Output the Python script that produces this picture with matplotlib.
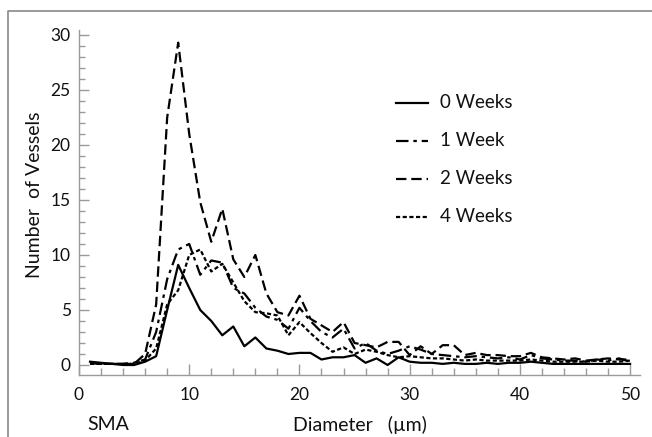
import matplotlib
matplotlib.use("Agg")
import matplotlib.pyplot as plt
from matplotlib.lines import Line2D
from matplotlib.ticker import MultipleLocator

plt.rcParams['font.family'] = ['Lato', 'DejaVu Sans']
plt.rcParams['lines.scale_dashes'] = False

diam = list(range(1, 51))
w0 = [0.3, 0.2, 0.1, 0.0, 0.0, 0.3, 0.8, 5.0, 9.1, 7.0,
      5.0, 4.0, 2.7, 3.5, 1.7, 2.5, 1.5, 1.3, 1.0, 1.1,
      1.1, 0.5, 0.7, 0.7, 0.9, 0.2, 0.6, 0.0, 0.7, 0.3,
      0.2, 0.2, 0.1, 0.2, 0.1, 0.1, 0.2, 0.1, 0.2, 0.2,
      0.3, 0.2, 0.1, 0.1, 0.1, 0.1, 0.1, 0.1, 0.1, 0.1]
w1 = [0.2, 0.1, 0.1, 0.1, 0.2, 0.5, 3.0, 7.8, 10.5, 11.0,
      8.2, 9.5, 9.3, 7.0, 6.5, 5.2, 4.4, 4.1, 3.3, 5.2,
      4.0, 3.0, 2.5, 3.3, 1.5, 2.0, 1.3, 1.0, 1.3, 1.7,
      1.4, 1.0, 0.9, 0.8, 0.7, 0.8, 0.7, 0.6, 0.7, 0.5,
      0.9, 0.6, 0.5, 0.4, 0.4, 0.3, 0.5, 0.4, 0.6, 0.3]
w2 = [0.2, 0.1, 0.1, 0.1, 0.1, 1.0, 5.5, 22.5, 29.3, 21.0,
      14.8, 11.2, 14.2, 9.6, 8.0, 10.0, 6.5, 4.8, 4.5, 6.3,
      4.2, 3.6, 3.0, 3.9, 2.0, 1.8, 1.6, 2.1, 2.1, 0.9,
      1.7, 1.0, 1.8, 1.8, 0.9, 1.1, 0.9, 0.9, 0.8, 0.8,
      1.1, 0.7, 0.6, 0.5, 0.6, 0.4, 0.5, 0.6, 0.5, 0.5]
w4 = [0.1, 0.1, 0.1, 0.1, 0.1, 0.4, 1.5, 5.5, 6.8, 10.0,
      10.5, 8.5, 9.2, 7.5, 5.8, 4.8, 4.7, 4.5, 2.7, 3.9,
      2.9, 2.0, 1.2, 1.6, 1.0, 1.4, 1.2, 0.9, 0.7, 0.8,
      0.7, 0.6, 0.6, 0.5, 0.4, 0.5, 0.4, 0.4, 0.4, 0.4,
      0.5, 0.4, 0.3, 0.3, 0.3, 0.3, 0.4, 0.3, 0.3, 0.4]
labels = ['0 Weeks', '1 Week', '2 Weeks', '4 Weeks']
x_ticks = [0, 10, 20, 30, 40, 50]
y_ticks = [0, 5, 10, 15, 20, 25, 30]

W, H = 652, 437
fig = plt.figure(figsize=(W / 100, H / 100), dpi=100)
ax = fig.add_axes([79 / W, (H - 375) / H, 561 / W, 345 / H])

lw = 1.6
styles = [dict(linestyle='-'),
          dict(dashes=(9, 3.5, 2.5, 3.5)),
          dict(dashes=(7.5, 3.5)),
          dict(dashes=(3, 1.8))]
series = [w0, w1, w2, w4]
for s, st in zip(series, styles):
    ax.plot(diam, s, color='black', lw=lw, **st)

ax.set_xlim(0, 50.9)
ax.set_ylim(-0.91, 30.45)
ax.set_xticks(x_ticks)
ax.set_yticks(y_ticks)
ax.xaxis.set_minor_locator(MultipleLocator(2))
ax.yaxis.set_minor_locator(MultipleLocator(1))
gray = '#9a9a9a'
for side in ['top', 'right']:
    ax.spines[side].set_visible(False)
for side in ['left', 'bottom']:
    ax.spines[side].set_color(gray)
    ax.spines[side].set_linewidth(1.0)
ax.tick_params(axis='both', which='both', direction='in', color=gray, width=1.0,
               labelsize=12.5, labelcolor='#111111')
ax.tick_params(axis='y', which='major', length=7, pad=6)
ax.tick_params(axis='y', which='minor', length=4)
ax.tick_params(axis='x', which='major', length=8, pad=9)
ax.tick_params(axis='x', which='minor', length=5)

# legend drawn manually
leg_y = [103, 141, 179, 217]
for lab, st, yy in zip(labels, styles, leg_y):
    yf = (H - yy) / H
    fig.add_artist(Line2D([396 / W, 428 / W], [yf, yf], color='black', lw=lw,
                          transform=fig.transFigure, **st))
    fig.text(440 / W, yf, lab, fontsize=13.5, va='center', ha='left', color='#111111')

fig.text(35 / W, (H - 195) / H, 'Number  of Vessels', rotation=90, fontsize=14,
         ha='center', va='center', color='#111111')
fig.text(360 / W, (H - 425) / H, 'Diameter   (\u00b5m)', fontsize=14,
         ha='center', va='center', color='#111111')
fig.text(108 / W, (H - 425) / H, 'SMA', fontsize=14,
         ha='center', va='center', color='#111111')

# outer frame
fig.add_artist(Line2D([8 / W, 8 / W, 1.0], [0.0, (H - 11) / H, (H - 11) / H],
                      color='#888888', lw=1.2, transform=fig.transFigure))

fig.savefig('out.png', dpi=100)
